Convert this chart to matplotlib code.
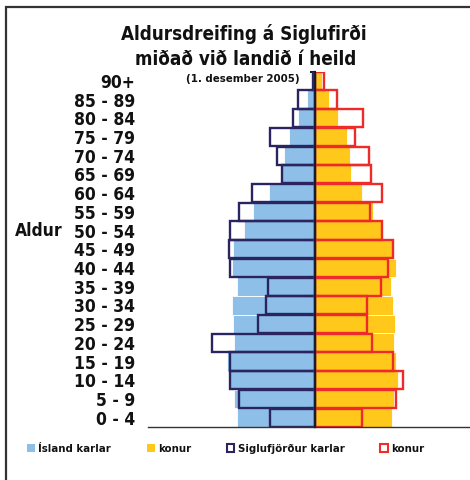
import matplotlib
matplotlib.use("Agg")
import matplotlib.pyplot as plt
from matplotlib.patches import Rectangle
import numpy as np

age_groups = ["0 - 4", "5 - 9", "10 - 14", "15 - 19", "20 - 24", "25 - 29", "30 - 34",
              "35 - 39", "40 - 44", "45 - 49", "50 - 54", "55 - 59", "60 - 64", "65 - 69",
              "70 - 74", "75 - 79", "80 - 84", "85 - 89", "90+"]
island_karlar = [3.52, 3.65, 3.86, 3.95, 3.65, 3.69, 3.74, 3.52, 3.75, 3.70, 3.20, 2.79,
                 2.08, 1.52, 1.40, 1.18, 0.78, 0.39, 0.09]
island_konur = [3.44, 3.54, 3.72, 3.61, 3.53, 3.57, 3.47, 3.39, 3.62, 3.50, 3.00, 2.60,
                2.09, 1.60, 1.56, 1.41, 1.00, 0.61, 0.31]
sigl_karlar = [2.03, 3.41, 3.81, 3.84, 4.63, 2.56, 2.22, 2.11, 3.84, 3.86, 3.81, 3.41,
               2.84, 1.51, 1.70, 2.03, 0.99, 0.79, 0.09]
sigl_konur = [2.11, 3.63, 3.93, 3.50, 2.56, 2.30, 2.33, 2.93, 3.27, 3.50, 3.00, 2.47,
              3.00, 2.48, 2.41, 1.78, 2.15, 0.97, 0.40]

title_lines = ["Aldursdreifing á Siglufirði", "miðað við landið í heild"]
subtitle = "(1. desember 2005)"
ylabel = "Aldur"
legend_labels = ["Ísland karlar", "konur", "Siglufjörður karlar", "konur"]

c_blue = "#8DBFE8"
c_yellow = "#FFC81A"
c_navy = "#2A2560"
c_red = "#EE2A2A"

plt.rcParams['font.family'] = ['DejaVu Sans']
plt.rcParams['font.weight'] = 'bold'
plt.rcParams['font.stretch'] = 'condensed'

W, H = 470, 480
fig = plt.figure(figsize=(W / 100, H / 100), dpi=100)
ax = fig.add_axes([148 / W, 53 / H, 334.6 / W, 355.5 / H])

y = np.arange(len(age_groups))
ax.barh(y, -np.array(island_karlar), height=1.0, color=c_blue, edgecolor="white", linewidth=0.6, zorder=1)
ax.barh(y, island_konur, height=1.0, color=c_yellow, edgecolor="white", linewidth=0.6, zorder=1)
ax.barh(y, -np.array(sigl_karlar), height=0.97, facecolor="none", edgecolor=c_navy, linewidth=1.7, zorder=2)
ax.barh(y, sigl_konur, height=0.97, facecolor="none", edgecolor=c_red, linewidth=1.7, zorder=2)

ax.set_xlim(-7.5, 7.5)
ax.set_ylim(-0.5, len(age_groups) - 0.5)

for s in ["top", "right"]:
    ax.spines[s].set_visible(False)
ax.spines["left"].set_position(("data", 0))
ax.spines["left"].set_color("#1a1a30")
ax.spines["left"].set_linewidth(1.6)
ax.spines["left"].set_zorder(3)
ax.spines["bottom"].set_color("#333333")
ax.spines["bottom"].set_linewidth(1.0)

ax.set_xticks([])
ax.set_yticks(y)
ax.set_yticklabels(age_groups)
ax.set_yticks(np.arange(-0.5, len(age_groups), 1.0), minor=True)
ax.tick_params(axis="y", which="major", length=0, pad=(315.3 - 135) * 0.72, labelsize=12.5)
ax.tick_params(axis="y", which="minor", length=3.5, width=1.5, color="#1a1a30", direction="out")
for lab in ax.get_yticklabels():
    lab.set_fontweight("bold")
    lab.set_color("#111111")

ax.set_ylabel(ylabel, rotation=0, fontsize=12.5, fontweight="bold", ha="right", va="center", color="#111111")
ax.yaxis.set_label_coords((63 - 148) / 334.6, (427 - 230.6) / 355.5)

fig.text(244 / W, 1 - 40 / H, title_lines[0], ha="center", va="baseline", fontsize=13.5, fontweight="bold", color="#111111")
fig.text(246 / W, 1 - 65 / H, title_lines[1], ha="center", va="baseline", fontsize=13.5, fontweight="bold", color="#111111")
fig.text(243 / W, 1 - 82 / H, subtitle, ha="center", va="baseline", fontsize=8.2, fontweight="bold", color="#111111")

handles = [
    Rectangle((0, 0), 1, 1, facecolor=c_blue, edgecolor="none"),
    Rectangle((0, 0), 1, 1, facecolor=c_yellow, edgecolor="none"),
    Rectangle((0, 0), 1, 1, facecolor="white", edgecolor=c_navy, linewidth=1.5),
    Rectangle((0, 0), 1, 1, facecolor="white", edgecolor=c_red, linewidth=1.5),
]
leg = fig.legend(handles, legend_labels, loc="center left", bbox_to_anchor=(27 / W, 1 - 449 / H),
                 ncol=4, frameon=False, fontsize=8.2, handlelength=0.7, handleheight=0.7,
                 handletextpad=0.3, columnspacing=3.1, borderpad=0, borderaxespad=0)
for t in leg.get_texts():
    t.set_fontweight("bold")
    t.set_color("#111111")

fig.add_artist(Rectangle((6 / W, -0.1), 1.2, 1.1 - 7 / H, transform=fig.transFigure,
                         fill=False, edgecolor="#333333", linewidth=1.6))

fig.savefig("out.png", dpi=100)
